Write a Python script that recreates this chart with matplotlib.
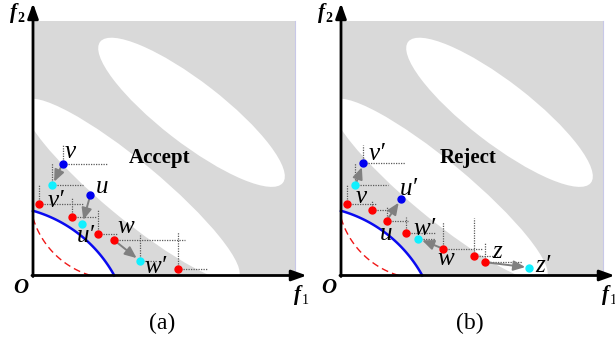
import numpy as np
import matplotlib.pyplot as plt
from matplotlib.patches import Rectangle, Ellipse, Polygon

plt.rcParams['font.family'] = ['Liberation Serif', 'DejaVu Serif']

nan = np.nan

# ---- panel (a) data: points in (f1, f2), 0..100 = grey square
a_name = ['v', 'v′', 'u', 'u′', 'w', 'w′', '', '', '', '']
a_kind = ['old', 'new', 'old', 'new', 'pop', 'new', 'pop', 'pop', 'pop', 'pop']
a_f1 = [11.3, 7.4, 21.9, 18.8, 30.9, 40.8, 2.3, 14.7, 24.7, 55.4]
a_f2 = [43.9, 35.3, 31.6, 20.2, 13.9, 5.8, 28.0, 23.1, 16.3, 2.5]
a_box_f1 = [28.1, 19.2, nan, nan, 58.0, 47.2, 19.2, 24.3, 32.4, 66.8]
a_box_f2 = [51.2, 44.2, nan, nan, nan, 15.9, 35.5, 30.9, 25.7, 17.2]
a_moves = [(0, 1), (2, 3), (4, 5)]

# ---- panel (b) data
b_name = ['v′', 'v', 'u′', 'u', 'w′', 'w', 'z', 'z′', '', '', '', '']
b_kind = ['old', 'new', 'old', 'pop', 'new', 'pop', 'pop', 'new',
          'pop', 'pop', 'pop', 'pop']
b_f1 = [8.5, 5.5, 22.9, 17.4, 29.5, 39.0, 55.1, 71.9, 2.3, 12.0, 24.8, 50.8]
b_f2 = [44.0, 35.5, 29.9, 21.5, 14.4, 10.5, 5.2, 3.1, 28.2, 25.7, 16.5, 7.8]
b_box_f1 = [24.4, 18.1, nan, 25.4, 35.9, 54.3, 69.0, nan, 13.4, 18.1, 35.9, 59.4]
b_box_f2 = [51.2, 44.2, nan, 27.0, nan, 21.1, 13.3, nan, 35.5, 29.2, 22.8, 22.4]
b_moves = [(1, 0), (3, 2), (5, 4), (6, 7)]

# label offsets (layout, data units, baseline)
a_lab = [(2.8, 2.2), (1.4, -8.4), (4.4, 0.8), (1.4, -7.1), (4.6, 2.8), (6.1, -4.8)]
b_lab = [(5.4, 1.3), (2.1, -7.1), (3.1, 1.7), (-0.2, -7.6), (2.2, 1.5),
         (1.1, -6.4), (4.4, 1.7), (5.2, -1.7)]

colors = {'old': '#0000f0', 'new': '#11f0ff', 'pop': '#ff0000'}
GREY = '#d9d9d9'

SX, SY = 2.62, 2.55   # px per unit
Y0 = 275.5            # px row of f2 = 0


def arc(cx, cy, rx, ry, t0, t1, n=120):
    t = np.linspace(t0, t1, n)
    return cx + rx * np.cos(t), cy + ry * np.sin(t)


def draw_panel(ax, x0, w_px, names, kinds, f1, f2, bx, by, moves, labs, word, tag):
    ax.set_xlim(-x0 / SX, (w_px - x0) / SX)
    ax.set_ylim(-(343 - Y0) / SY, Y0 / SY)
    ax.axis('off')

    sq = Rectangle((0, 0), 100, 100, fc=GREY, ec='none', zorder=0)
    ax.add_patch(sq)
    ax.plot([100, 100], [0, 100], color='#c8c8e8', lw=0.8, zorder=0.5)
    ax.add_patch(Ellipse((60.5, 64.0), 89, 24.0, angle=-38.5,
                         fc='white', ec='none', zorder=1))
    band = Ellipse((37.6, 33.6), 107, 22.0, angle=-40.5,
                   fc='white', ec='none', zorder=1)
    ax.add_patch(band)
    band.set_clip_path(sq)

    # PF (blue) and ideal region (red dashed)
    cx, cy, rx, ry = -14.1, -25.5, 51.5, 52.9
    t0 = np.arcsin(-cy / ry)
    t1 = np.arccos(-cx / rx)
    px, py = arc(cx, cy, rx, ry, t0, t1)
    ax.add_patch(Polygon(np.column_stack([np.r_[0, px, 0], np.r_[0, py, py[-1]]]),
                         fc='white', ec='none', zorder=2))
    ax.plot(px, py, color='#0a0af0', lw=1.8, zorder=3)
    cx, cy, rx, ry = 31.4, 32.3, 32.8, 33.7
    t0 = np.pi + np.arccos(cx / rx)
    t1 = 1.5 * np.pi - np.arccos(cy / ry)
    px, py = arc(cx, cy, rx, ry, t0, t1)
    ax.plot(px, py, color='#f01818', lw=1.0, ls=(0, (5, 3)), zorder=3)

    # axes arrows
    head = '-|>,head_length=0.9,head_width=0.32'
    ax.annotate('', xy=(0, 106.8), xytext=(0, -0.4),
                arrowprops=dict(arrowstyle=head, lw=2, color='black',
                                shrinkA=0, shrinkB=0), zorder=4)
    ax.annotate('', xy=(104.5, 0), xytext=(-0.4, 0),
                arrowprops=dict(arrowstyle=head, lw=2, color='black',
                                shrinkA=0, shrinkB=0), zorder=4)

    # dominance guides
    for x, y, gx, gy in zip(f1, f2, bx, by):
        if not np.isnan(gx):
            ax.plot([x, gx], [y, y], color='#5a5a5a', lw=0.9, ls=(0, (1, 1)), zorder=5)
        if not np.isnan(gy):
            ax.plot([x, x], [y, gy], color='#5a5a5a', lw=0.9, ls=(0, (1, 1)), zorder=5)

    for i, j in moves:
        ax.annotate('', xy=(f1[j], f2[j]), xytext=(f1[i], f2[i]),
                    arrowprops=dict(arrowstyle='-|>,head_length=0.7,head_width=0.3',
                                    lw=1.4, color='#808080', shrinkA=2, shrinkB=3),
                    zorder=6)

    for x, y, k in zip(f1, f2, kinds):
        ax.plot(x, y, 'o', ms=5, color=colors[k], mec=colors[k], zorder=7)

    for (dx, dy), n, x, y in zip(labs, names, f1, f2):
        ax.text(x + dx, y + dy, n, fontsize=18, style='italic', ha='center',
                va='baseline', zorder=8)

    ax.text(48.5, 44.1, word, fontsize=15, weight='bold', ha='center',
            va='baseline', zorder=8)
    ax.text(-4.6, -6.8, 'O', fontsize=15, weight='bold', style='italic',
            ha='center', va='baseline')
    ax.text(-7.6, 101, 'f', fontsize=15, weight='bold', style='italic',
            ha='center', va='baseline')
    ax.text(-4.6, 99.5, '2', fontsize=10, weight='bold', ha='center', va='baseline')
    ax.text(100.8, -9.6, 'f', fontsize=15, weight='bold', style='italic',
            ha='center', va='baseline')
    ax.text(103.8, -11.1, '1', fontsize=10, ha='center', va='baseline')
    ax.text(49.3, -21, tag, fontsize=17, ha='center', va='baseline')


fig = plt.figure(figsize=(6.15, 3.43), dpi=100)
ax1 = fig.add_axes([0, 0, 307 / 615, 1])
ax2 = fig.add_axes([307 / 615, 0, 308 / 615, 1])

draw_panel(ax1, 33, 307, a_name, a_kind, a_f1, a_f2, a_box_f1, a_box_f2, a_moves,
           a_lab, 'Accept', '(a)')
draw_panel(ax2, 34, 308, b_name, b_kind, b_f1, b_f2, b_box_f1, b_box_f2, b_moves,
           b_lab, 'Reject', '(b)')

fig.savefig('out.png', dpi=100)
